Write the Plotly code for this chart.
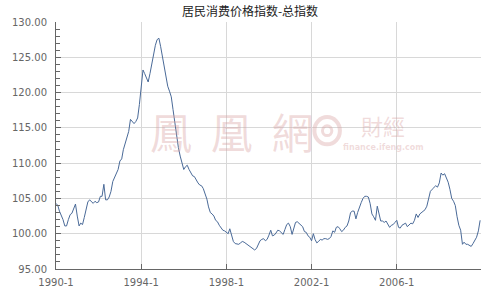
import plotly.graph_objects as go
import pandas as pd

title_text = "居民消费价格指数-总指数"
tick_labels = ["1990-1", "1994-1", "1998-1", "2002-1", "2006-1"]
tick_dates = ["1990-01-01", "1994-01-01", "1998-01-01", "2002-01-01", "2006-01-01"]

cpi_1990 = [104.3, 104.0, 103.2, 102.6, 102.0, 101.1, 101.1, 102.0, 102.7, 102.9, 103.7, 104.2]
cpi_1991 = [102.5, 101.1, 101.5, 101.3, 102.3, 103.5, 104.5, 104.8, 104.6, 104.3, 104.6, 104.4]
cpi_1992 = [104.5, 105.3, 105.3, 107.0, 104.8, 104.8, 105.2, 106.0, 107.4, 108.0, 108.5, 109.1]
cpi_1993 = [110.3, 110.6, 111.9, 112.7, 113.4, 114.5, 116.2, 115.9, 115.6, 115.9, 116.4, 118.3]
cpi_1994 = [121.1, 123.2, 122.7, 122.0, 121.5, 122.7, 124.2, 125.6, 126.7, 127.5, 127.7, 126.5]
cpi_1995 = [125.1, 123.7, 122.3, 120.9, 120.2, 119.4, 117.6, 115.7, 114.0, 112.2, 111.0, 110.0]
cpi_1996 = [109.1, 109.5, 109.7, 109.1, 108.6, 108.2, 108.1, 107.6, 107.2, 106.9, 106.8, 106.4]
cpi_1997 = [105.7, 104.9, 103.8, 103.0, 102.8, 102.5, 101.9, 101.7, 101.2, 100.9, 100.5, 100.4]
cpi_1998 = [100.2, 100.0, 100.7, 99.7, 98.9, 98.6, 98.5, 98.5, 98.7, 98.9, 98.8, 98.6]
cpi_1999 = [98.5, 98.3, 98.0, 97.8, 97.7, 97.9, 98.5, 99.0, 99.2, 99.3, 99.0, 99.2]
cpi_2000 = [99.8, 100.5, 99.7, 99.8, 100.1, 100.5, 100.4, 100.1, 99.9, 100.6, 101.3, 101.5]
cpi_2001 = [101.0, 99.9, 100.7, 101.6, 101.7, 101.5, 101.3, 101.0, 100.3, 100.2, 99.7, 99.5]
cpi_2002 = [99.0, 100.0, 99.2, 98.7, 98.9, 99.2, 99.1, 99.3, 99.3, 99.2, 99.3, 99.6]
cpi_2003 = [100.4, 100.2, 100.9, 101.0, 100.7, 100.3, 100.5, 100.9, 101.1, 101.8, 103.0, 103.2]
cpi_2004 = [103.2, 102.1, 103.0, 103.8, 104.4, 105.0, 105.3, 105.3, 105.2, 104.3, 102.8, 102.4]
cpi_2005 = [101.9, 103.9, 102.7, 101.8, 101.8, 101.6, 101.8, 101.3, 100.9, 101.2, 101.3, 101.6]
cpi_2006 = [101.9, 100.9, 100.8, 101.2, 101.4, 101.5, 101.0, 101.3, 101.5, 101.4, 101.9, 102.8]
cpi_2007 = [102.3, 102.8, 103.0, 103.2, 103.4, 103.9, 105.0, 106.0, 106.3, 106.5, 106.8, 106.6]
cpi_2008 = [107.2, 108.6, 108.3, 108.5, 108.0, 107.3, 106.3, 105.0, 104.6, 104.0, 102.4, 101.2]
cpi_2009 = [100.5, 98.5, 98.8, 98.5, 98.5, 98.3, 98.2, 98.6, 99.0, 99.5, 100.4, 101.9]

values = (cpi_1990 + cpi_1991 + cpi_1992 + cpi_1993 + cpi_1994 + cpi_1995 + cpi_1996
          + cpi_1997 + cpi_1998 + cpi_1999 + cpi_2000 + cpi_2001 + cpi_2002 + cpi_2003
          + cpi_2004 + cpi_2005 + cpi_2006 + cpi_2007 + cpi_2008 + cpi_2009)
months = pd.date_range("1990-01-01", periods=len(values), freq="MS")

fig = go.Figure()
fig.add_trace(go.Scatter(x=months, y=values, mode="lines",
                         line=dict(color="#4a6a98", width=1), hoverinfo="skip"))

wm = "rgba(215,160,160,0.38)"
fig.add_annotation(x=0.415, y=0.56, xref="paper", yref="paper", text="鳳&nbsp;&nbsp;凰&nbsp;&nbsp;網",
                   xanchor="center", yanchor="middle",
                   showarrow=False, font=dict(size=42, color=wm, family="Noto Sans CJK TC"))
fig.add_annotation(x=0.77, y=0.585, xref="paper", yref="paper", text="財經",
                   xanchor="center", yanchor="middle",
                   showarrow=False, font=dict(size=22, color=wm, family="Noto Sans CJK TC"))
fig.add_annotation(x=0.77, y=0.49, xref="paper", yref="paper", text="<b>finance.ifeng.com</b>",
                   xanchor="center", yanchor="middle",
                   showarrow=False, font=dict(size=8, color=wm, family="DejaVu Sans"))
fig.add_shape(type="circle", xref="paper", yref="paper", x0=0.608, x1=0.668, y0=0.505, y1=0.615,
              line=dict(color=wm, width=4))
fig.add_shape(type="circle", xref="paper", yref="paper", x0=0.627, x1=0.649, y0=0.54, y1=0.58,
              line=dict(color=wm, width=3))

fig.update_layout(
    width=500, height=300,
    margin=dict(l=50, r=19, t=22, b=30),
    paper_bgcolor="white", plot_bgcolor="white",
    showlegend=False,
    title=dict(text=title_text, x=0.5, xanchor="center", y=0.975, yanchor="top",
               font=dict(size=12, color="#222", family="Noto Sans CJK SC")),
    xaxis=dict(type="date", range=["1990-01-01", "2009-12-16"],
               tickvals=tick_dates, ticktext=tick_labels,
               showgrid=True, gridcolor="#d8d8d8", gridwidth=1,
               showline=True, linecolor="#666", linewidth=1,
               ticks="inside", ticklen=5, tickcolor="#666",
               tickfont=dict(size=10, color="#666", family="DejaVu Sans"),
               ticklabelstandoff=4,
               zeroline=False, fixedrange=True),
    yaxis=dict(range=[95, 130], tickvals=[95, 100, 105, 110, 115, 120, 125, 130],
               tickformat=".2f",
               showgrid=True, gridcolor="#d8d8d8", gridwidth=1,
               showline=True, linecolor="#666", linewidth=1,
               ticks="inside", ticklen=5, tickcolor="#666",
               minor=dict(dtick=1, ticks="inside", ticklen=4, tickcolor="#666", showgrid=False),
               tickfont=dict(size=10, color="#666", family="DejaVu Sans"),
               ticklabelstandoff=6,
               zeroline=False, fixedrange=True),
)

fig.write_html("out.html")
